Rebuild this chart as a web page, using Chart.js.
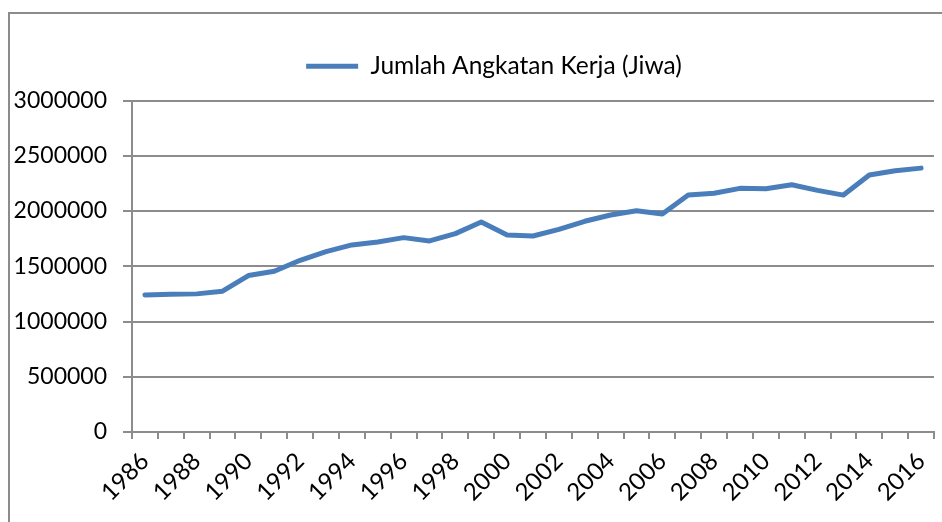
<!DOCTYPE html>
<html lang="en">
<head>
    <meta charset="UTF-8">
    <script src="https://cdn.jsdelivr.net/npm/chart.js"></script>
    <title>Jumlah Angkatan Kerja</title>
    <style>
        body { margin: 0; background: #ffffff; }
        canvas { display: block; }
    </style>
</head>
<body>
    <canvas id="chart" width="942" height="522"></canvas>
    <script>
        // Data
        const years = ['1986','1987','1988','1989','1990','1991','1992','1993','1994','1995',
                       '1996','1997','1998','1999','2000','2001','2002','2003','2004','2005',
                       '2006','2007','2008','2009','2010','2011','2012','2013','2014','2015','2016'];
        const angkatanKerja = [1240000, 1247000, 1250000, 1274000, 1416000, 1455000, 1554000, 1633000,
                               1693000, 1720000, 1759000, 1729000, 1795000, 1900000, 1783000, 1774000,
                               1834000, 1907000, 1964000, 2003000, 1973000, 2144000, 2160000, 2205000,
                               2202000, 2238000, 2187000, 2144000, 2325000, 2364000, 2388000];
        const yTicks = [0, 500000, 1000000, 1500000, 2000000, 2500000, 3000000];

        const gridColor = '#8c8c8c';
        const fontFamily = 'Lato, "Open Sans", sans-serif';

        // frame like the exported excel chart, legend nudged right with extra space below it
        const framePlugin = {
            id: 'frame',
            afterInit(chart) {
                const legend = chart.legend;
                const origFit = legend.fit;
                legend.fit = function () {
                    origFit.call(this);
                    this.height += 12;
                };
            },
            afterLayout(chart) {
                chart.legend.left += 27;
                chart.legend.right += 27;
            },
            beforeDraw(chart) {
                const c = chart.ctx;
                c.save();
                c.strokeStyle = gridColor;
                c.lineWidth = 2;
                c.beginPath();
                c.moveTo(9, 600);
                c.lineTo(9, 13);
                c.lineTo(1000, 13);
                c.stroke();
                c.restore();
            }
        };

        const ctx = document.getElementById('chart').getContext('2d');
        const chart = new Chart(ctx, {
            type: 'line',
            data: {
                labels: years,
                datasets: [{
                    label: 'Jumlah Angkatan Kerja (Jiwa)',
                    data: angkatanKerja,
                    borderColor: '#4a7ebb',
                    backgroundColor: '#4a7ebb',
                    borderWidth: 5,
                    borderCapStyle: 'round',
                    borderJoinStyle: 'round',
                    pointRadius: 0,
                    tension: 0
                }]
            },
            options: {
                responsive: false,
                animation: false,
                layout: { padding: { top: 12, right: 8, left: 0, bottom: 0 } },
                plugins: {
                    legend: {
                        position: 'top',
                        labels: {
                            usePointStyle: true,
                            pointStyle: 'line',
                            pointStyleWidth: 52,
                            padding: 42,
                            color: '#000000',
                            font: { family: fontFamily, size: 24.5 }
                        }
                    },
                    tooltip: { enabled: false }
                },
                scales: {
                    x: {
                        offset: true,
                        grid: {
                            offset: true,
                            drawOnChartArea: false,
                            drawTicks: true,
                            tickLength: 7,
                            color: gridColor,
                            lineWidth: 2
                        },
                        border: { color: gridColor, width: 2 },
                        ticks: {
                            autoSkip: false,
                            minRotation: 45,
                            maxRotation: 45,
                            padding: 8,
                            color: '#000000',
                            font: { family: fontFamily, size: 24 },
                            callback: function (value, index) {
                                return index % 2 === 0 ? years[index] : '';
                            }
                        },
                        afterFit(scale) {
                            scale.height = 90;
                            scale.paddingLeft = 0;
                            scale.paddingRight = 0;
                        }
                    },
                    y: {
                        min: 0,
                        max: 3000000,
                        afterBuildTicks(scale) {
                            scale.ticks = yTicks.map(v => ({ value: v }));
                        },
                        grid: {
                            color: gridColor,
                            lineWidth: 2,
                            tickLength: 9
                        },
                        border: { color: gridColor, width: 2 },
                        ticks: {
                            padding: 16,
                            color: '#000000',
                            font: { family: fontFamily, size: 23 },
                            callback: v => String(v)
                        },
                        afterFit(scale) { scale.width = 132; }
                    }
                }
            },
            plugins: [framePlugin]
        });
    </script>
</body>
</html>
